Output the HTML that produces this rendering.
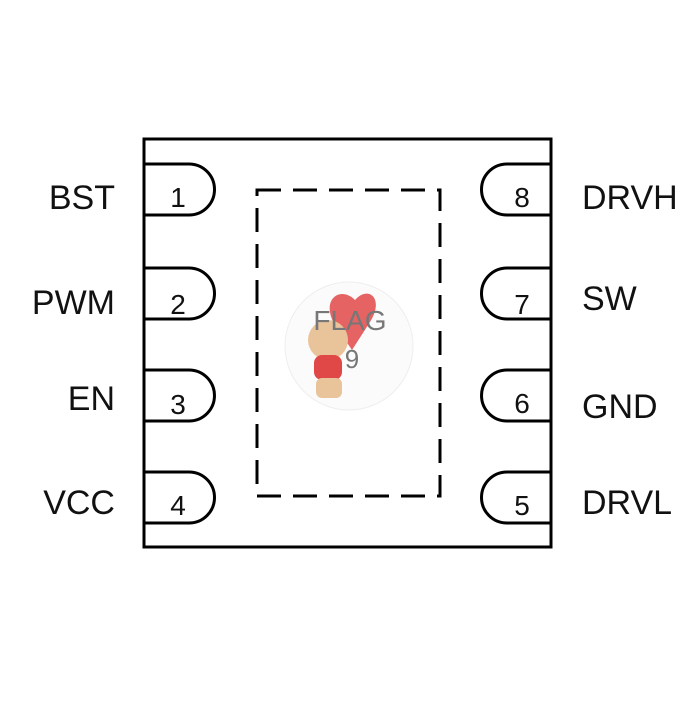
<!DOCTYPE html>
<html><head><style>
body{margin:0;background:#fff;}
svg text{font-family:"Liberation Sans",Arial,sans-serif;fill:#111;}
</style></head><body>
<svg width="700" height="700" viewBox="0 0 700 700" xmlns="http://www.w3.org/2000/svg">
<rect x="144" y="139" width="407" height="408" fill="none" stroke="#000" stroke-width="3"/>
<g fill="none" stroke="#000" stroke-width="3">
<path d="M144 164 H189 A25.5 25.5 0 0 1 189 215 H144"/>
<path d="M144 268 H189 A25.5 25.5 0 0 1 189 319 H144"/>
<path d="M144 370 H189 A25.5 25.5 0 0 1 189 421 H144"/>
<path d="M144 472 H189 A25.5 25.5 0 0 1 189 523 H144"/>
<path d="M551 164 H507 A25.5 25.5 0 0 0 507 215 H551"/>
<path d="M551 268 H507 A25.5 25.5 0 0 0 507 319 H551"/>
<path d="M551 370 H507 A25.5 25.5 0 0 0 507 421 H551"/>
<path d="M551 472 H507 A25.5 25.5 0 0 0 507 523 H551"/>
<rect x="257" y="190" width="183" height="306" stroke-dasharray="24 12"/>
</g>
<circle cx="349" cy="346" r="64" fill="#fbfbfb" stroke="#eee"/>
<path d="M355 300 C340 285 320 300 335 325 L352 350 L370 322 C385 298 368 285 355 300Z" fill="#e04848" opacity="0.85"/>
<circle cx="328" cy="340" r="20" fill="#e9c49a"/>
<rect x="314" y="355" width="28" height="25" rx="8" fill="#e04848"/>
<rect x="316" y="378" width="26" height="20" rx="6" fill="#e9c49a"/>
<text x="350" y="330" font-size="28" text-anchor="middle" style="fill:#777">FLAG</text>
<text x="352" y="368" font-size="26" text-anchor="middle" style="fill:#777">9</text>
<g font-size="34">
<text x="115" y="209" text-anchor="end">BST</text>
<text x="115" y="314" text-anchor="end">PWM</text>
<text x="115" y="410" text-anchor="end">EN</text>
<text x="115" y="514" text-anchor="end">VCC</text>
<text x="582" y="209">DRVH</text>
<text x="582" y="310">SW</text>
<text x="582" y="418">GND</text>
<text x="582" y="514">DRVL</text>
</g>
<g font-size="28" text-anchor="middle">
<text x="178" y="207">1</text>
<text x="178" y="314">2</text>
<text x="178" y="414">3</text>
<text x="178" y="515">4</text>
<text x="522" y="207">8</text>
<text x="522" y="314">7</text>
<text x="522" y="413">6</text>
<text x="522" y="515">5</text>
</g>
</svg>
</body></html>
